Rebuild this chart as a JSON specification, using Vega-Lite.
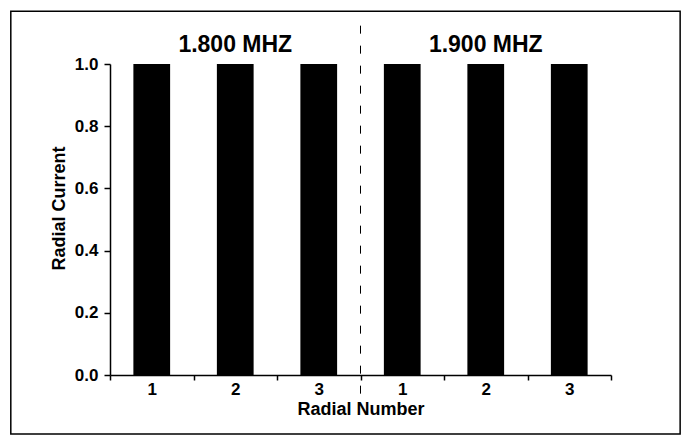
{
  "$schema": "https://vega.github.io/schema/vega-lite/v6.json",
  "width": 501,
  "height": 311,
  "autosize": {"type": "none"},
  "padding": {"left": 110, "top": 64, "right": 71, "bottom": 62},
  "background": "white",
  "config": {"view": {"stroke": null}, "font": "Liberation Sans"},
  "datasets": {
    "bars": [
      {"slot": "1.800-1", "freq": "1.800 MHZ", "radial": 1, "current": 1.0},
      {"slot": "1.800-2", "freq": "1.800 MHZ", "radial": 2, "current": 1.0},
      {"slot": "1.800-3", "freq": "1.800 MHZ", "radial": 3, "current": 1.0},
      {"slot": "1.900-1", "freq": "1.900 MHZ", "radial": 1, "current": 1.0},
      {"slot": "1.900-2", "freq": "1.900 MHZ", "radial": 2, "current": 1.0},
      {"slot": "1.900-3", "freq": "1.900 MHZ", "radial": 3, "current": 1.0}
    ],
    "titles": [
      {"slot": "1.800-2", "current": 1.06, "label": "1.800 MHZ"},
      {"slot": "1.900-2", "current": 1.06, "label": "1.900 MHZ"}
    ],
    "divider": [{"slot": "1.900-1", "lo": -0.06, "hi": 1.15}],
    "frame": [{"x0": -0.198, "x1": 1.138, "y0": -0.19, "y1": 1.17}]
  },
  "resolve": {"scale": {"x": "independent"}, "axis": {"y": "independent"}},
  "layer": [
    {
      "data": {"name": "frame"},
      "mark": {"type": "rect", "fill": null, "stroke": "black", "strokeWidth": 1.5, "clip": false},
      "encoding": {
        "x": {"field": "x0", "type": "quantitative", "scale": {"domain": [0, 1], "nice": false, "zero": false}, "axis": null},
        "x2": {"field": "x1"},
        "y": {"field": "y0", "type": "quantitative", "scale": {"domain": [0, 1], "nice": false}, "axis": null},
        "y2": {"field": "y1"}
      }
    },
    {
      "layer": [
        {
          "data": {"name": "bars"},
          "mark": {"type": "bar", "color": "black", "width": {"band": 0.44}},
          "encoding": {
            "x": {
              "field": "slot", "type": "nominal", "sort": null,
              "scale": {"paddingInner": 0, "paddingOuter": 0},
              "axis": {
                "title": "Radial Number",
                "labelExpr": "split(datum.value, '-')[1]",
                "labelAngle": 0,
                "tickBand": "extent",
                "domainColor": "black", "domainWidth": 1.5,
                "tickColor": "black", "tickWidth": 1.5, "tickSize": 5,
                "labelFont": "Liberation Sans", "labelFontWeight": "bold", "labelFontSize": 17, "labelColor": "black",
                "labelPadding": 1,
                "titleFont": "Liberation Sans", "titleFontWeight": "bold", "titleFontSize": 18, "titleColor": "black",
                "titlePadding": 3
              }
            },
            "y": {
              "field": "current", "type": "quantitative",
              "scale": {"domain": [0, 1], "nice": false},
              "axis": {
                "title": "Radial Current",
                "values": [0, 0.2, 0.4, 0.6, 0.8, 1.0],
                "format": ".1f",
                "grid": false,
                "domainColor": "black", "domainWidth": 1.5,
                "tickColor": "black", "tickWidth": 1.5, "tickSize": 6,
                "labelFont": "Liberation Sans", "labelFontWeight": "bold", "labelFontSize": 17, "labelColor": "black",
                "labelPadding": 6,
                "titleFont": "Liberation Sans", "titleFontWeight": "bold", "titleFontSize": 18, "titleColor": "black",
                "titlePadding": 6,
                "titleY": 144
              }
            }
          }
        },
        {
          "data": {"name": "divider"},
          "mark": {"type": "rule", "color": "black", "strokeWidth": 1, "strokeDash": [8, 12], "clip": false},
          "encoding": {
            "x": {"field": "slot", "type": "nominal", "sort": null, "bandPosition": 0},
            "y": {"field": "lo", "type": "quantitative", "scale": {"domain": [0, 1], "nice": false}},
            "y2": {"field": "hi"}
          }
        },
        {
          "data": {"name": "titles"},
          "mark": {"type": "text", "font": "Liberation Sans", "fontWeight": "bold", "fontSize": 23, "color": "black", "baseline": "middle", "align": "center", "clip": false},
          "encoding": {
            "x": {"field": "slot", "type": "nominal", "sort": null},
            "y": {"field": "current", "type": "quantitative", "scale": {"domain": [0, 1], "nice": false}},
            "text": {"field": "label"}
          }
        }
      ]
    }
  ]
}
